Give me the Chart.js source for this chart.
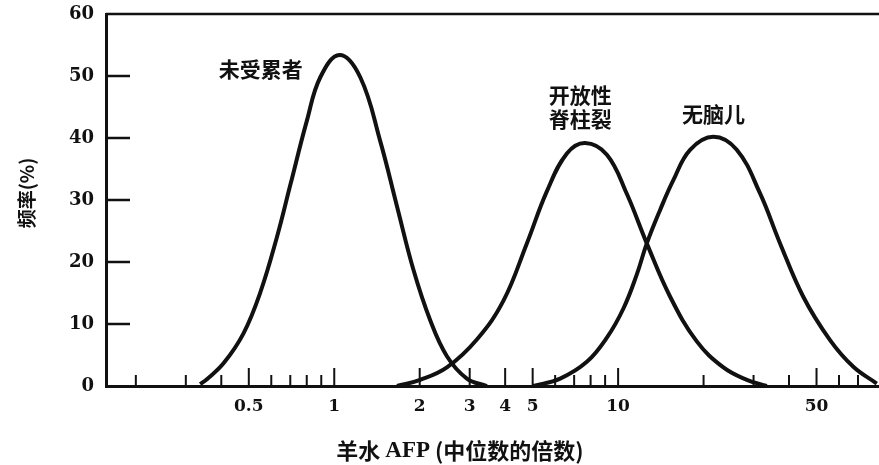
<!DOCTYPE html>
<html>
<head>
<meta charset="utf-8">
<script src="https://cdn.jsdelivr.net/npm/chart.js@4"></script>
<style>
  html, body { margin: 0; padding: 0; background: #fff; }
</style>
</head>
<body>
<canvas id="myChart" width="879" height="465"></canvas>
<script>
// x = amniotic AFP in multiples of the median, y = frequency (%)
var normalX = [0.337, 0.356, 0.408, 0.479, 0.549, 0.628, 0.700, 0.801, 0.893, 1.044, 1.235, 1.452, 1.663, 1.902, 2.178, 2.494, 2.933, 3.449];
var normalY = [0.3, 1.1, 3.7, 8.5, 15.1, 24.0, 32.4, 42.8, 49.8, 53.4, 49.8, 39.5, 29.0, 18.7, 10.6, 4.8, 1.2, 0];

var spinaX = [1.663, 2.008, 2.494, 3.18, 3.95, 4.77, 5.61, 6.60, 7.65, 9.13, 10.73, 12.62, 15.25, 18.93, 23.49, 28.4, 33.4];
var spinaY = [0, 1.0, 3.0, 7.5, 13.8, 23.0, 31.4, 37.5, 39.2, 37.3, 31.0, 23.0, 14.4, 7.2, 3.0, 1.0, 0];

var anenX = [5.03, 6.25, 7.76, 9.13, 10.44, 11.64, 12.62, 14.06, 15.65, 17.93, 21.66, 26.18, 31.6, 37.2, 44.9, 55.8, 67.4, 81.5];
var anenY = [0, 1.2, 3.9, 7.8, 12.5, 18.0, 23.0, 28.4, 33.2, 38.1, 40.2, 38.1, 31.1, 23.0, 14.4, 7.4, 3.1, 0.4];

var curveNames = [["未受累者"], ["开放性", "脊柱裂"], ["无脑儿"]];

var xTicks = [0.2, 0.3, 0.4, 0.5, 0.6, 0.7, 0.8, 0.9, 1, 2, 3, 4, 5, 6, 7, 8, 9, 10, 20, 30, 40, 50, 60, 70];
var xTickLabels = ["0.5", "1", "2", "3", "4", "5", "10", "50"];
var yTicks = [0, 10, 20, 30, 40, 50, 60];

var ink = "#111";
var cjk = '"Noto Sans CJK SC"';

function points(xs, ys) {
  return xs.map(function (x, i) { return { x: x, y: ys[i] }; });
}

function curve(xs, ys) {
  return {
    data: points(xs, ys),
    borderColor: ink,
    borderWidth: 4,
    pointRadius: 0,
    fill: false,
    tension: 0.4
  };
}

// ticks inside the frame, top border, titles and curve names
var paper = {
  id: "paper",
  beforeDatasetsDraw: function (chart) {
    var ctx = chart.ctx, a = chart.chartArea;
    var xs = chart.scales.x, ys = chart.scales.y;
    ctx.save();
    ctx.strokeStyle = ink;
    ctx.lineWidth = 2;
    xTicks.forEach(function (v) {
      var px = xs.getPixelForValue(v);
      var len = xTickLabels.indexOf(String(v)) >= 0 ? 18 : 11;
      ctx.beginPath();
      ctx.moveTo(px, a.bottom);
      ctx.lineTo(px, a.bottom - len);
      ctx.stroke();
    });
    ctx.lineWidth = 2.5;
    yTicks.forEach(function (v) {
      if (v <= 0 || v >= 60) return;
      var py = ys.getPixelForValue(v);
      ctx.beginPath();
      ctx.moveTo(a.left, py);
      ctx.lineTo(a.left + 24, py);
      ctx.stroke();
    });
    ctx.beginPath();
    ctx.moveTo(a.left, a.top);
    ctx.lineTo(a.right, a.top);
    ctx.stroke();
    ctx.restore();
  },
  afterDraw: function (chart) {
    var ctx = chart.ctx;
    var xs = chart.scales.x, ys = chart.scales.y;
    ctx.save();
    ctx.fillStyle = ink;
    ctx.textBaseline = "middle";
    ctx.textAlign = "center";

    // curve names, anchored in data coordinates
    var anchors = [[0.551, 51.1], [7.35, 46.9], [21.7, 43.9]];
    ctx.font = "bold 21px " + cjk;
    curveNames.forEach(function (lines, i) {
      var px = xs.getPixelForValue(anchors[i][0]);
      var py = ys.getPixelForValue(anchors[i][1]);
      lines.forEach(function (t, j) {
        ctx.fillText(t, px, py + j * 24);
      });
    });

    // y title
    ctx.save();
    ctx.translate(27, 193);
    ctx.rotate(-Math.PI / 2);
    ctx.font = "bold 19px " + cjk;
    ctx.fillText("频率(%)", 0, 0);
    ctx.restore();

    // x title, mixed fonts
    var parts = [["羊水 ", "bold 22px " + cjk], ["AFP", 'bold 23px "Liberation Serif"'], [" (中位数的倍数)", "bold 22px " + cjk]];
    var total = 0;
    parts.forEach(function (p) { ctx.font = p[1]; total += ctx.measureText(p[0]).width; });
    var x = 460 - total / 2;
    ctx.textAlign = "left";
    parts.forEach(function (p) {
      ctx.font = p[1];
      ctx.fillText(p[0], x, 451);
      x += ctx.measureText(p[0]).width;
    });
    ctx.restore();
  }
};

new Chart("myChart", {
  type: "line",
  data: {
    datasets: [curve(normalX, normalY), curve(spinaX, spinaY), curve(anenX, anenY)]
  },
  options: {
    responsive: false,
    animation: false,
    layout: { padding: { top: 14, right: 0, left: 0, bottom: 0 } },
    plugins: { legend: { display: false }, tooltip: { enabled: false } },
    scales: {
      x: {
        type: "logarithmic",
        min: 0.157,
        max: 83,
        grid: { display: false },
        border: { color: ink, width: 3 },
        afterBuildTicks: function (scale) {
          scale.ticks = xTicks.map(function (v) { return { value: v }; });
        },
        afterFit: function (scale) {
          scale.height = 79;
          scale.paddingLeft = 0;
          scale.paddingRight = 0;
        },
        ticks: {
          autoSkip: false,
          maxRotation: 0,
          padding: 2,
          color: ink,
          font: { family: "DejaVu Serif", weight: "bold", size: 17 },
          callback: function (v) {
            var s = String(v);
            return xTickLabels.indexOf(s) >= 0 ? s : "";
          }
        }
      },
      y: {
        min: 0,
        max: 60,
        grid: { display: false },
        border: { color: ink, width: 3 },
        afterBuildTicks: function (scale) {
          scale.ticks = yTicks.map(function (v) { return { value: v }; });
        },
        afterFit: function (scale) {
          scale.width = 106;
          scale.paddingTop = 0;
          scale.paddingBottom = 0;
        },
        ticks: {
          padding: 4,
          color: ink,
          font: { family: "DejaVu Serif", weight: "bold", size: 18 }
        }
      }
    }
  },
  plugins: [paper]
});
</script>
</body>
</html>
